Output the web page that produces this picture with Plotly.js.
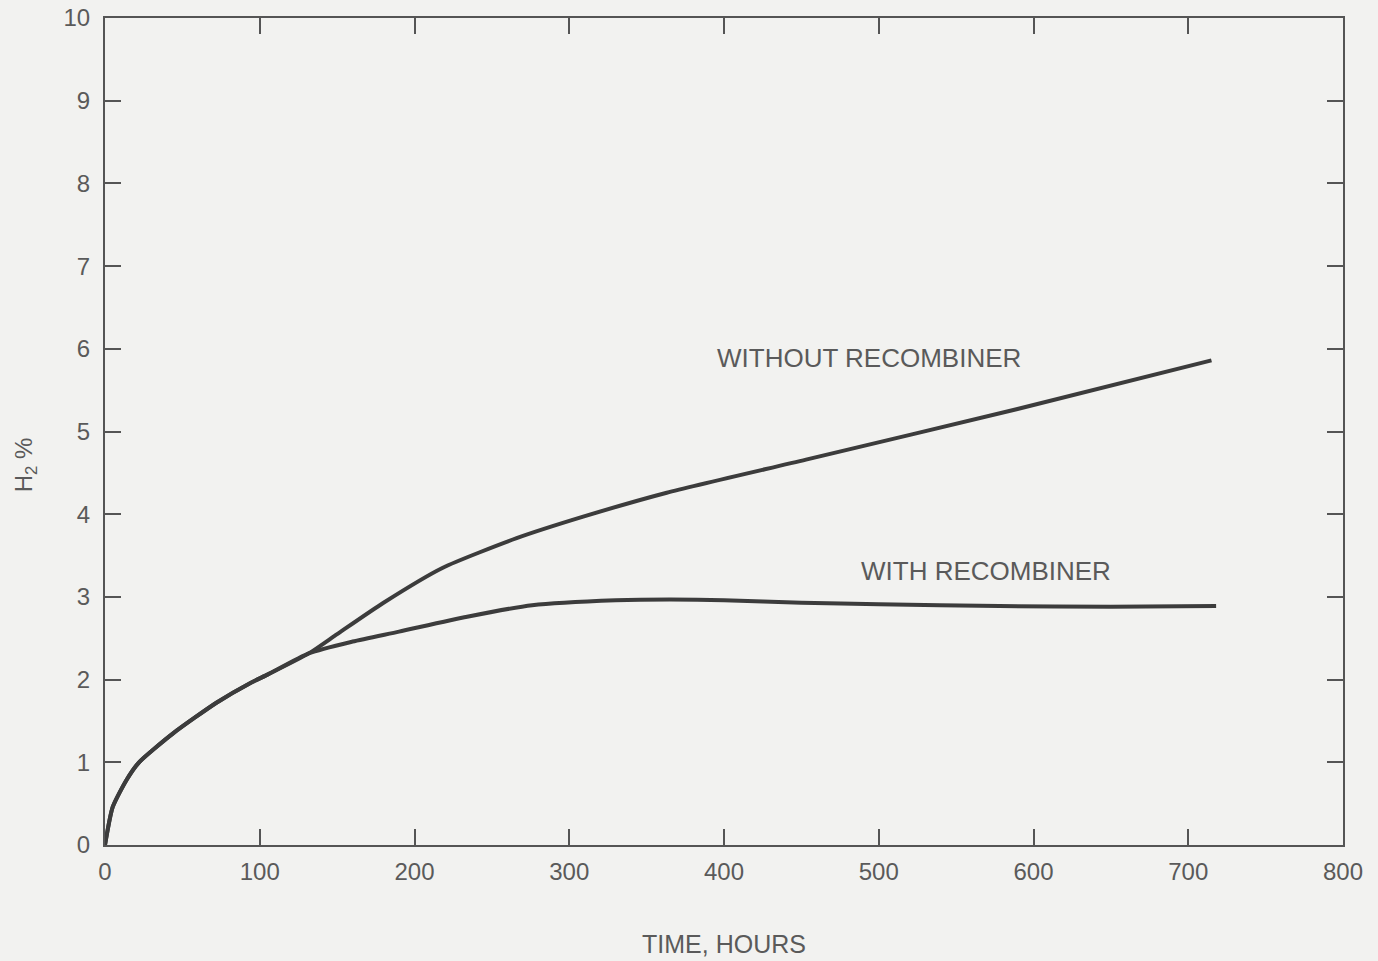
<!DOCTYPE html>
<html>
<head>
<meta charset="utf-8">
<script src="https://cdn.plot.ly/plotly-3.0.1.min.js"></script>
<style>
  html, body { margin: 0; padding: 0; background: #f2f2f0; }
  #chart { width: 1378px; height: 961px; }
</style>
</head>
<body>
<div id="chart"></div>
<script>
// Time (hours) and H2 concentration (%)
const timeWithout = [0, 5, 14, 22, 44, 72, 94, 105, 132, 150, 180, 218, 266, 309, 363, 453, 587, 715];
const h2Without   = [0, 0.46, 0.79, 1.0, 1.35, 1.72, 1.96, 2.06, 2.32, 2.55, 2.93, 3.35, 3.71, 3.97, 4.26, 4.66, 5.26, 5.86];

const timeWith = [0, 5, 14, 22, 44, 72, 94, 105, 132, 160, 190, 234, 276, 330, 365, 400, 450, 500, 578, 650, 718];
const h2With   = [0, 0.46, 0.79, 1.0, 1.35, 1.72, 1.96, 2.06, 2.32, 2.46, 2.58, 2.76, 2.90, 2.96, 2.97, 2.96, 2.93, 2.91, 2.89, 2.88, 2.89];

const seriesNames = ["WITHOUT RECOMBINER", "WITH RECOMBINER"];
const xTicks = [0, 100, 200, 300, 400, 500, 600, 700, 800];
const yTicks = [0, 1, 2, 3, 4, 5, 6, 7, 8, 9, 10];

const lineColor = "#3c3c3c";
const textColor = "#5a5a5a";
const font = "Liberation Sans, Arial, Helvetica, sans-serif";

const traces = [
  { x: timeWithout, y: h2Without, name: seriesNames[0], mode: "lines",
    line: { color: lineColor, width: 4, shape: "spline", smoothing: 0.6 } },
  { x: timeWith, y: h2With, name: seriesNames[1], mode: "lines",
    line: { color: lineColor, width: 4, shape: "spline", smoothing: 0.6 } }
];

const axisCommon = {
  showline: true, linecolor: "#555", linewidth: 2, mirror: "ticks",
  ticks: "inside", ticklen: 16, tickwidth: 2, tickcolor: "#555",
  showgrid: false, zeroline: false,
  tickfont: { family: font, size: 24, color: textColor }
};

const layout = {
  width: 1378, height: 961,
  paper_bgcolor: "#f2f2f0", plot_bgcolor: "#f2f2f0",
  margin: { l: 105, r: 35, t: 18, b: 116 },
  showlegend: false,
  xaxis: Object.assign({}, axisCommon, {
    range: [0, 800], tickvals: xTicks, ticktext: xTicks.map(String),
    ticklabelstandoff: 4,
    title: { text: "TIME, HOURS", font: { family: font, size: 25, color: textColor }, standoff: 52 }
  }),
  yaxis: Object.assign({}, axisCommon, {
    range: [0, 10], tickvals: yTicks, ticktext: yTicks.map(String),
    ticklabelstandoff: 8
  }),
  annotations: [
    { x: 394, y: 5.89, xref: "x", yref: "y", xanchor: "left", yanchor: "middle",
      text: seriesNames[0], showarrow: false,
      font: { family: font, size: 26, color: textColor } },
    { x: 487, y: 3.31, xref: "x", yref: "y", xanchor: "left", yanchor: "middle",
      text: seriesNames[1], showarrow: false,
      font: { family: font, size: 26, color: textColor } },
    { x: -0.064, y: 0.46, xref: "paper", yref: "paper", xanchor: "center", yanchor: "middle",
      text: "H<sub>2</sub> %", textangle: -90, showarrow: false,
      font: { family: font, size: 24, color: textColor } }
  ]
};

Plotly.newPlot("chart", traces, layout, { displayModeBar: false, staticPlot: true });
</script>
</body>
</html>
